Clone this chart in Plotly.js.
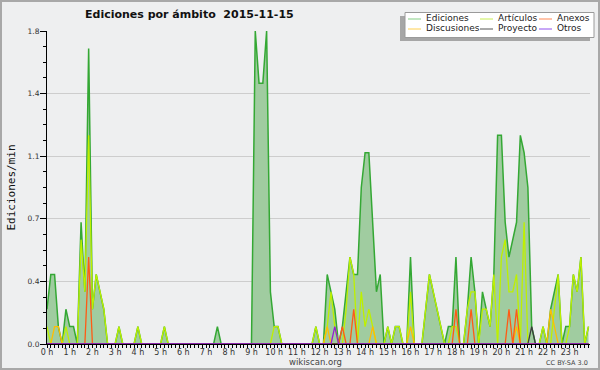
<!DOCTYPE html>
<html>
<head>
<meta charset="utf-8">
<script src="https://cdn.plot.ly/plotly-3.0.1.min.js"></script>
<style>
  html, body { margin: 0; padding: 0; background: #eeeff0; }
  #wrap { position: relative; width: 600px; height: 370px; }
  #chart { width: 600px; height: 370px; }
  #frame { position: absolute; left: 0; top: 0; width: 600px; height: 370px; box-sizing: border-box; border: 2px solid #a8a8a8; pointer-events: none; }
</style>
</head>
<body>
<div id="wrap"><div id="chart"></div><div id="frame"></div></div>
<script>
// 10-minute bins, 144 per day; values in edits per minute
const binsPerHour = 6;
const hourTicks = [0,1,2,3,4,5,6,7,8,9,10,11,12,13,14,15,16,17,18,19,20,21,22,23];
const hourLabels = ['0 h','1 h','2 h','3 h','4 h','5 h','6 h','7 h','8 h','9 h','10 h','11 h','12 h','13 h','14 h','15 h','16 h','17 h','18 h','19 h','20 h','21 h','22 h','23 h'];

const seriesNames = ['Ediciones','Artículos','Anexos','Discusiones','Proyecto','Otros'];

const ediciones = [
  0.2,0.4,0.4,0.1,0,0.2,0.1,0.1,0,0.7,0.3,1.7,
  0.2,0.4,0.3,0.2,0,0,0,0.1,0,0,0,0,
  0.1,0,0,0,0,0,0,0.1,0,0,0,0,
  0,0,0,0,0,0,0,0,0,0.1,0,0,
  0,0,0,0,0,0,0,1.8,1.5,1.5,1.8,0.3,
  0.1,0.1,0,0,0,0,0,0,0,0,0,0.1,
  0,0,0.4,0.3,0.2,0,0.1,0.3,0.5,0.4,0.4,0.9,
  1.1,1.1,0.7,0.3,0.4,0,0.1,0,0.1,0.1,0,0,
  0.5,0,0,0,0.2,0.4,0.3,0.2,0.1,0,0.1,0.1,
  0.5,0,0,0.2,0.5,0.3,0,0.3,0.2,0.1,0.4,1.2,
  1.2,0.7,0.5,0.6,0.7,1.2,1.1,0.9,0.1,0,0,0.1,
  0,0.2,0.3,0.4,0,0.1,0.1,0.4,0.3,0.5,0,0.1
];
const articulos = [
  0.1,0,0,0,0,0.1,0,0,0,0.6,0.3,1.2,
  0.2,0.4,0.3,0.2,0,0,0,0.1,0,0,0,0,
  0.1,0,0,0,0,0,0,0.1,0,0,0,0,
  0,0,0,0,0,0,0,0,0,0,0,0,
  0,0,0,0,0,0,0,0,0,0,0,0,
  0.1,0.1,0,0,0,0,0,0,0,0,0,0.1,
  0,0,0.1,0.3,0.1,0,0,0.2,0.5,0.4,0,0.3,
  0.1,0.2,0.1,0,0,0,0.1,0,0.1,0.1,0,0,
  0.3,0,0,0,0.2,0.4,0.3,0.2,0.1,0,0,0.1,
  0.1,0,0,0.2,0.3,0.3,0,0.2,0.2,0.1,0.4,0,
  0.5,0.6,0.3,0.3,0.4,0,0.7,0,0,0,0,0.1,
  0,0,0.2,0.4,0,0,0.1,0.4,0.3,0.5,0,0.1
];
const anexos = [
  0,0,0,0,0,0,0,0,0,0,0,0.5,
  0,0,0,0,0,0,0,0,0,0,0,0,
  0,0,0,0,0,0,0,0,0,0,0,0,
  0,0,0,0,0,0,0,0,0,0,0,0,
  0,0,0,0,0,0,0,0,0,0,0,0,
  0,0,0,0,0,0,0,0,0,0,0,0,
  0,0,0,0,0,0,0.1,0,0,0.2,0,0,
  0,0,0,0,0,0,0,0,0,0,0,0,
  0,0,0,0,0,0,0,0,0,0,0,0,
  0.2,0,0,0,0.2,0,0,0,0,0,0,0,
  0,0,0.2,0,0.2,0,0,0,0,0,0,0,
  0,0,0,0,0,0,0,0,0,0,0,0
];
const discusiones = [
  0,0,0.1,0.1,0,0,0,0,0,0,0,0,
  0,0,0,0,0,0,0,0,0,0,0,0,
  0,0,0,0,0,0,0,0,0,0,0,0,
  0,0,0,0,0,0,0,0,0,0,0,0,
  0,0,0,0,0,0,0,0,0,0,0,0,
  0,0,0,0,0,0,0,0,0,0,0,0,
  0,0,0.1,0,0,0,0,0,0,0,0,0,
  0,0,0.1,0,0,0,0,0,0,0,0,0,
  0.1,0,0,0,0,0,0,0,0,0,0,0,
  0,0,0,0,0,0,0,0,0,0,0,0,
  0,0,0,0,0.1,0,0,0,0,0,0,0,
  0,0.2,0.1,0,0,0,0,0,0,0,0,0
];
const proyecto = [
  0,0,0,0,0,0,0,0,0,0,0,0,
  0,0,0,0,0,0,0,0,0,0,0,0,
  0,0,0,0,0,0,0,0,0,0,0,0,
  0,0,0,0,0,0,0,0,0,0,0,0,
  0,0,0,0,0,0,0,0,0,0,0,0,
  0,0,0,0,0,0,0,0,0,0,0,0,
  0,0,0,0,0,0,0,0,0,0,0,0,
  0,0,0,0,0,0,0,0,0,0,0,0,
  0,0,0,0,0,0,0,0,0,0,0,0,
  0,0,0,0,0,0,0,0,0,0,0,0,
  0,0,0,0,0,0,0,0,0.1,0,0,0,
  0,0,0,0,0,0,0,0,0,0,0,0
];
const otros = [
  0,0,0,0,0,0,0,0,0,0,0,0,
  0,0,0,0,0,0,0,0,0,0,0,0,
  0,0,0,0,0,0,0,0,0,0,0,0,
  0,0,0,0,0,0,0,0,0,0,0,0,
  0,0,0,0,0,0,0,0,0,0,0,0,
  0,0,0,0,0,0,0,0,0,0,0,0,
  0,0,0,0,0.1,0,0,0,0,0,0,0,
  0,0,0,0,0,0,0,0,0,0,0,0,
  0,0,0,0,0,0,0,0,0,0,0,0,
  0,0,0,0,0,0,0,0,0,0,0,0,
  0,0,0,0,0,0,0,0,0,0,0,0,
  0,0,0,0,0,0,0,0,0,0,0,0
];

const timeH = ediciones.map((_, i) => i / binsPerHour);

const lineColors = {
  'Ediciones': 'rgb(52,168,52)',
  'Artículos': 'rgb(190,240,0)',
  'Anexos': 'rgb(255,90,20)',
  'Discusiones': 'rgb(255,190,0)',
  'Proyecto': 'rgb(60,60,60)',
  'Otros': 'rgb(150,30,210)'
};
const legendColors = ['#85cf85','#c8ee55','#ff8855','#ffd050','#555555','#9050ee'];

const W = 600, H = 370, M = {l: 47, r: 10, t: 31, b: 26};
const PW = W - M.l - M.r, PH = H - M.t - M.b;
const px = v => (v - M.l) / PW;
const py = v => (H - M.b - v) / PH;

function lineTrace(name, y, width) {
  return {x: timeH, y: y, name: name, type: 'scatter', mode: 'lines',
    line: {color: lineColors[name], width: width}, hoverinfo: 'skip', showlegend: false};
}

const traces = [
  Object.assign(lineTrace('Ediciones', ediciones, 1.5), {fill: 'tozeroy', fillcolor: 'rgb(160,204,160)'}),
  lineTrace('Artículos', articulos, 1.3),
  lineTrace('Discusiones', discusiones, 1.3),
  lineTrace('Anexos', anexos, 1.3),
  lineTrace('Proyecto', proyecto, 1.3),
  lineTrace('Otros', otros, 1.3)
];

// manual legend (3 columns x 2 rows with drop shadow)
const shapes = [
  {type: 'rect', xref: 'paper', yref: 'paper', x0: px(400), x1: px(590), y0: py(41), y1: py(16),
   fillcolor: '#a6a6a6', line: {width: 0}, layer: 'above'},
  {type: 'rect', xref: 'paper', yref: 'paper', x0: px(405), x1: px(594), y0: py(37.5), y1: py(12.5),
   fillcolor: '#ffffff', line: {color: '#9a9a9a', width: 1}, layer: 'above'}
];
const annotations = [];
const colLine = [408, 480, 539];
const colText = [423.5, 495.5, 555];
const rowY = [19, 29];
seriesNames.forEach((name, k) => {
  const r = Math.floor(k / 3), c = k % 3;
  shapes.push({type: 'line', xref: 'paper', yref: 'paper', x0: px(colLine[c]), x1: px(colLine[c] + 13),
    y0: py(rowY[r]), y1: py(rowY[r]), line: {color: legendColors[k], width: 1}, layer: 'above'});
  annotations.push({xref: 'paper', yref: 'paper', x: px(colText[c]), y: py(rowY[r] - 0.5), xanchor: 'left', yanchor: 'middle',
    text: name, showarrow: false, font: {family: 'DejaVu Sans', size: 9, color: '#222'}});
});
annotations.push({xref: 'paper', yref: 'paper', x: px(315), y: py(362), xanchor: 'center', yanchor: 'middle',
  text: 'wikiscan.org', showarrow: false, font: {family: 'DejaVu Sans', size: 8.5, color: '#444'}});
annotations.push({xref: 'paper', yref: 'paper', x: px(590), y: py(363), xanchor: 'right', yanchor: 'middle',
  text: 'CC BY-SA 3.0', showarrow: false, font: {family: 'DejaVu Sans', size: 6.5, color: '#444'}});

const layout = {
  width: W, height: H,
  margin: M,
  paper_bgcolor: '#eeeff0', plot_bgcolor: '#eeeff0',
  showlegend: false,
  title: {text: '<b>Ediciones por ámbito\u00a0\u00a02015-11-15</b>', x: 85 / W, xanchor: 'left', y: 1 - 14 / H, yanchor: 'middle',
    font: {family: 'DejaVu Sans', size: 11, color: '#111'}},
  xaxis: {
    range: [0, 23.9], tickmode: 'array', tickvals: hourTicks, ticktext: hourLabels,
    ticks: 'outside', ticklen: 3, tickcolor: '#000', tickwidth: 1,
    showline: true, linecolor: '#000', linewidth: 1, showgrid: false, zeroline: false,
    tickfont: {family: 'DejaVu Sans', size: 8, color: '#333'}, ticklabelstandoff: -3,
    minor: {tickmode: 'linear', tick0: 0, dtick: 1 / binsPerHour, ticks: 'outside', ticklen: 3, tickcolor: '#000', tickwidth: 1, showgrid: false},
    fixedrange: true
  },
  yaxis: {
    range: [0, 1.8], tickmode: 'linear', tick0: 0, dtick: 0.36, tickformat: '.1f',
    ticks: 'outside', ticklen: 6, tickcolor: '#000', tickwidth: 1,
    showline: true, linecolor: '#000', linewidth: 1, zeroline: false,
    showgrid: true, gridcolor: '#cdcdcd', gridwidth: 1,
    tickfont: {family: 'DejaVu Sans', size: 7.5, color: '#333'}, ticklabelstandoff: -1,
    minor: {tickmode: 'linear', tick0: 0, dtick: 0.09, ticks: 'outside', ticklen: 3, tickcolor: '#000', tickwidth: 1, showgrid: false},
    title: {text: 'Ediciones/min', standoff: 9, font: {family: 'DejaVu Sans Mono', size: 11, color: '#111'}},
    fixedrange: true
  },
  shapes: shapes,
  annotations: annotations
};

Plotly.newPlot('chart', traces, layout, {staticPlot: true, displayModeBar: false});
</script>
</body>
</html>
